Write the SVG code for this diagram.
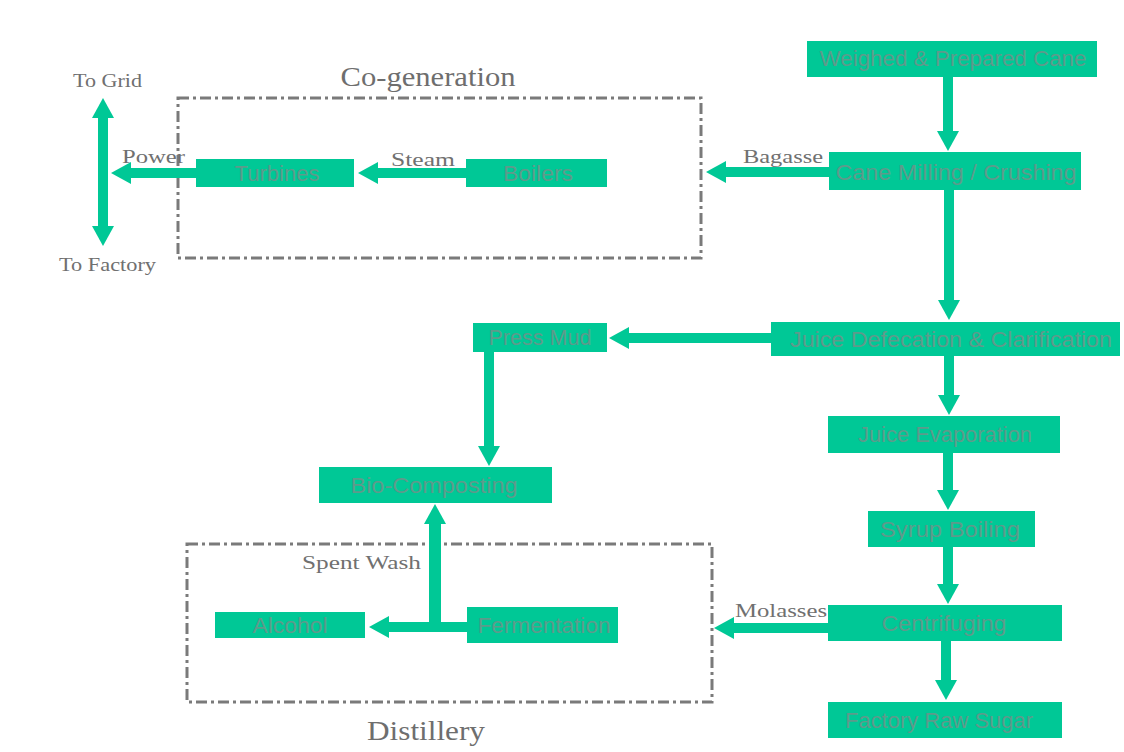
<svg xmlns="http://www.w3.org/2000/svg" width="1124" height="752" viewBox="0 0 1124 752">
<defs>
<style>
.box{fill:#00c896;}
.bt{font-family:"Liberation Sans",Arial,sans-serif;font-size:22px;fill:#5e9a8b;text-anchor:middle;}
.lbl{font-family:"Liberation Serif","Times New Roman",serif;font-size:18px;fill:#707070;}
.ttl{font-family:"Liberation Serif","Times New Roman",serif;font-size:27px;fill:#6e6e6e;}
.conn{stroke:#00c896;stroke-width:10;fill:none;}
.grp{fill:none;stroke:#7a7a7a;stroke-width:3;stroke-dasharray:11 4 3 4;}
</style>
<marker id="ah" markerUnits="userSpaceOnUse" markerWidth="20" markerHeight="22" viewBox="0 0 20 22" refX="1" refY="11" orient="auto-start-reverse">
<path d="M0,0 L20,11 L0,22 z" fill="#00c896"/>
</marker>
</defs>
<rect width="1124" height="752" fill="#ffffff"/>

<g id="cogeneration">
<rect class="grp" x="178" y="98" width="523" height="160"/>
<text class="ttl" x="428" y="86" text-anchor="middle" textLength="175" lengthAdjust="spacingAndGlyphs">Co-generation</text>
</g>
<g id="distillery">
<rect class="grp" x="187" y="544" width="525" height="158"/>
<text class="ttl" x="426" y="740" text-anchor="middle" textLength="118" lengthAdjust="spacingAndGlyphs">Distillery</text>
</g>

<g id="connectors">
<line class="conn" x1="948" y1="77" x2="948" y2="132" marker-end="url(#ah)"/>
<line class="conn" x1="949" y1="190" x2="949" y2="301" marker-end="url(#ah)"/>
<line class="conn" x1="829" y1="172" x2="725" y2="172" marker-end="url(#ah)"/>
<line class="conn" x1="466" y1="173" x2="377" y2="173" marker-end="url(#ah)"/>
<line class="conn" x1="196" y1="173" x2="130" y2="173" marker-end="url(#ah)"/>
<line class="conn" x1="103" y1="117" x2="103" y2="227" marker-start="url(#ah)" marker-end="url(#ah)"/>
<line class="conn" x1="771" y1="338" x2="628" y2="338" marker-end="url(#ah)"/>
<line class="conn" x1="489" y1="352" x2="489" y2="447" marker-end="url(#ah)"/>
<line class="conn" x1="949" y1="356" x2="949" y2="396" marker-end="url(#ah)"/>
<line class="conn" x1="948" y1="453" x2="948" y2="491" marker-end="url(#ah)"/>
<line class="conn" x1="948" y1="547" x2="948" y2="585" marker-end="url(#ah)"/>
<line class="conn" x1="946" y1="641" x2="946" y2="681" marker-end="url(#ah)"/>
<line class="conn" x1="828" y1="628" x2="733" y2="628" marker-end="url(#ah)"/>
<line class="conn" x1="467" y1="627" x2="388" y2="627" marker-end="url(#ah)"/>
<line class="conn" x1="435" y1="632" x2="435" y2="523" style="stroke-width:12" marker-end="url(#ah)"/>
<text class="lbl" x="73" y="87" textLength="69" lengthAdjust="spacingAndGlyphs">To Grid</text>
<text class="lbl" x="59" y="271" textLength="97" lengthAdjust="spacingAndGlyphs">To Factory</text>
<text class="lbl" x="122" y="163" textLength="63" lengthAdjust="spacingAndGlyphs">Power</text>
<text class="lbl" x="391" y="166" textLength="64" lengthAdjust="spacingAndGlyphs">Steam</text>
<text class="lbl" x="743" y="163" textLength="80" lengthAdjust="spacingAndGlyphs">Bagasse</text>
<text class="lbl" x="302" y="569" textLength="119" lengthAdjust="spacingAndGlyphs">Spent Wash</text>
<text class="lbl" x="735" y="617" textLength="92" lengthAdjust="spacingAndGlyphs">Molasses</text>
</g>

<g id="weighed"><rect class="box" x="807" y="41" width="290" height="36"/><text class="bt" x="953" y="66" textLength="267" lengthAdjust="spacingAndGlyphs">Weighed &amp; Prepared Cane</text></g>
<g id="milling"><rect class="box" x="829" y="152" width="252" height="38"/><text class="bt" x="956" y="180" textLength="241" lengthAdjust="spacingAndGlyphs">Cane Milling / Crushing</text></g>
<g id="boilers"><rect class="box" x="466" y="159" width="141" height="28"/><text class="bt" x="538" y="181" textLength="70" lengthAdjust="spacingAndGlyphs">Boilers</text></g>
<g id="turbines"><rect class="box" x="196" y="159" width="158" height="28"/><text class="bt" x="277" y="181" textLength="85" lengthAdjust="spacingAndGlyphs">Turbines</text></g>
<g id="juicedef"><rect class="box" x="771" y="322" width="349" height="34"/><text class="bt" x="951" y="347" textLength="322" lengthAdjust="spacingAndGlyphs">Juice Defecation &amp; Clarification</text></g>
<g id="pressmud"><rect class="box" x="473" y="323" width="134" height="29"/><text class="bt" x="540" y="345" textLength="103" lengthAdjust="spacingAndGlyphs">Press Mud</text></g>
<g id="juiceevap"><rect class="box" x="828" y="416" width="232" height="37"/><text class="bt" x="945" y="442" textLength="174" lengthAdjust="spacingAndGlyphs">Juice Evaporation</text></g>
<g id="syrup"><rect class="box" x="868" y="511" width="167" height="36"/><text class="bt" x="950" y="537" textLength="140" lengthAdjust="spacingAndGlyphs">Syrup Boiling</text></g>
<g id="biocompost"><rect class="box" x="319" y="467" width="233" height="36"/><text class="bt" x="434" y="493" textLength="167" lengthAdjust="spacingAndGlyphs">Bio-Composting</text></g>
<g id="centrifuging"><rect class="box" x="828" y="605" width="234" height="36"/><text class="bt" x="944" y="631" textLength="125" lengthAdjust="spacingAndGlyphs">Centrifuging</text></g>
<g id="rawsugar"><rect class="box" x="828" y="702" width="234" height="36"/><text class="bt" x="939" y="728" textLength="188" lengthAdjust="spacingAndGlyphs">Factory Raw Sugar</text></g>
<g id="alcohol"><rect class="box" x="215" y="612" width="150" height="26"/><text class="bt" x="290" y="633" textLength="75" lengthAdjust="spacingAndGlyphs">Alcohol</text></g>
<g id="fermentation"><rect class="box" x="467" y="607" width="151" height="36"/><text class="bt" x="544" y="633" textLength="133" lengthAdjust="spacingAndGlyphs">Fermentation</text></g>
</svg>
